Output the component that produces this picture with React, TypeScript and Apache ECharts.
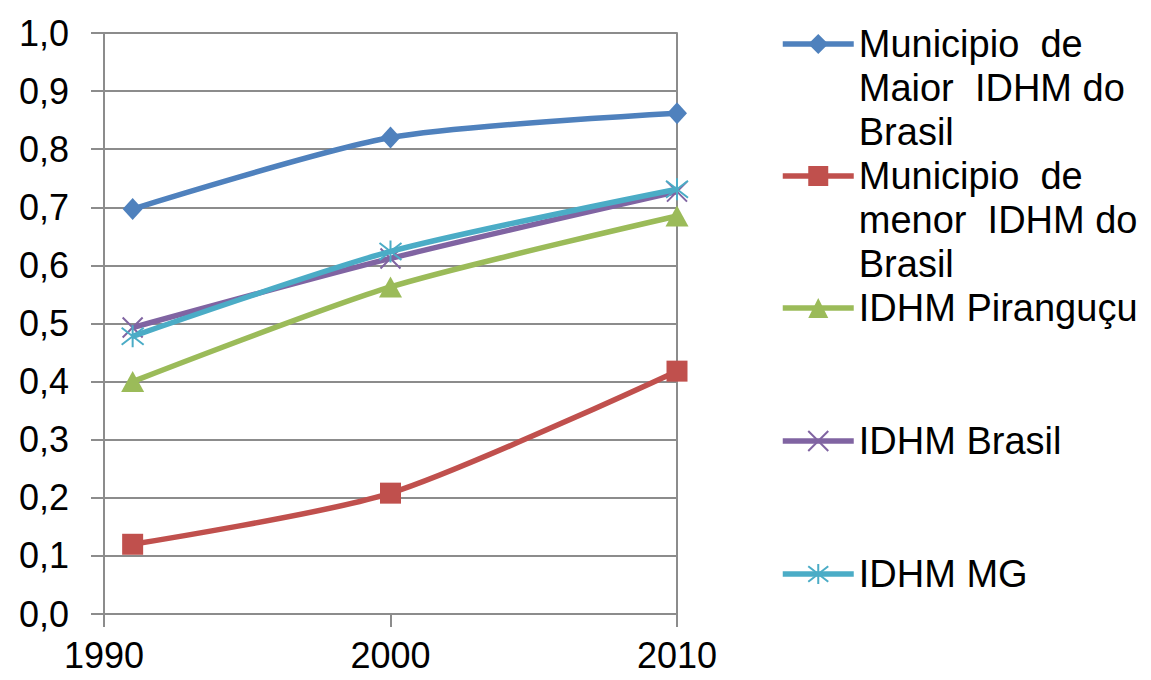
import React, { useEffect, useRef } from "react";
import * as echarts from "echarts";

const years = [1991, 2000, 2010];
const xTicks = [1990, 2000, 2010];
const seriesNames = [
  "Municipio de Maior IDHM do Brasil",
  "Municipio de menor IDHM do Brasil",
  "IDHM Piranguçu",
  "IDHM Brasil",
  "IDHM MG",
];
const legendLines = [
  ["Municipio  de", "Maior  IDHM do", "Brasil"],
  ["Municipio  de", "menor  IDHM do", "Brasil"],
  ["IDHM Piranguçu"],
  ["IDHM Brasil"],
  ["IDHM MG"],
];
const maiorIDHM = [0.697, 0.82, 0.862];
const menorIDHM = [0.12, 0.208, 0.418];
const piranguçu = [0.4, 0.563, 0.685];
const brasil = [0.493, 0.612, 0.727];
const mg = [0.478, 0.624, 0.731];

const colors = ["#4F81BD", "#C0504D", "#9BBB59", "#8064A2", "#4BACC6"];
const FONT = "'Liberation Sans', Arial, Helvetica, sans-serif";
const GRID = "#8c8c8c";

export default function App() {
  const ref = useRef<HTMLDivElement>(null);
  useEffect(() => {
    document.body.style.margin = "0";
    const chart = echarts.init(ref.current!, null, { renderer: "svg" });
    const values = [maiorIDHM, menorIDHM, piranguçu, brasil, mg];
    const symbols = [
      "diamond",
      "rect",
      "triangle",
      "path://M0,0L10,10M10,0L0,10",
      "path://M0,0L10,10M10,0L0,10M5,-1.5L5,11.5",
    ];
    const sizes: any[] = [[20, 22], 21, [23, 21], 20, 22];
    const series = values.map((vals, i) => ({
      name: seriesNames[i],
      type: "line",
      color: colors[i],
      data: years.map((y, j) => [y, vals[j]]),
      smooth: 0.25,
      symbol: symbols[i],
      symbolSize: sizes[i],
      showSymbol: true,
      lineStyle: { width: 5.5, color: colors[i] },
      itemStyle:
        i >= 3
          ? { color: colors[i], borderColor: colors[i], borderWidth: 2 }
          : { color: colors[i] },
      z: 2 + i,
    }));
    const iconCenters = [44, 176, 308, 441, 574];
    const lineH = 44;
    const padTop = 8;
    const legends = seriesNames.map((name, i) => {
      const lines = legendLines[i];
      const multi = lines.length > 1;
      const text = multi ? "\n\n" + lines.join("\n") : lines[0];
      const nLines = multi ? lines.length + 2 : 1;
      const textH = nLines * lineH + padTop;
      const h = Math.max(25, textH);
      return {
        show: true,
        orient: "vertical",
        left: 780,
        top: iconCenters[i] - h / 2,
        padding: 0,
        itemWidth: 71,
        itemHeight: 25,
        data: [name],
        selectedMode: false,
        formatter: () => text,
        lineStyle: { width: 5.5 },
        textStyle: {
          fontSize: 38,
          lineHeight: lineH,
          fontFamily: FONT,
          color: "#000",
          padding: [padTop, 0, 0, 0],
        },
      };
    });
    chart.setOption({
      animation: false,
      backgroundColor: "#fff",
      grid: { left: 104, right: 474, top: 33, bottom: 66, containLabel: false },
      legend: legends,
      xAxis: {
        type: "value",
        min: xTicks[0],
        max: xTicks[xTicks.length - 1],
        interval: 10,
        axisLine: { show: true, lineStyle: { color: GRID, width: 2 } },
        axisTick: { show: true, length: 13, lineStyle: { color: GRID, width: 2 } },
        splitLine: { show: false },
        axisLabel: {
          fontSize: 36,
          fontFamily: FONT,
          color: "#000",
          margin: 23,
          formatter: (v: number) => String(v),
        },
      },
      yAxis: [
        {
          type: "value",
          min: 0,
          max: 1,
          interval: 0.1,
          axisLine: { show: true, lineStyle: { color: GRID, width: 2 } },
          axisTick: { show: true, length: 13, lineStyle: { color: GRID, width: 2 } },
          splitLine: { show: true, lineStyle: { color: GRID, width: 2 } },
          axisLabel: {
            fontSize: 36,
            fontFamily: FONT,
            color: "#000",
            margin: 35,
            formatter: (v: number) => v.toFixed(1).replace(".", ","),
          },
        },
        {
          type: "value",
          position: "right",
          min: 0,
          max: 1,
          interval: 0.1,
          axisLine: { show: true, lineStyle: { color: GRID, width: 2 } },
          axisTick: { show: false },
          splitLine: { show: false },
          axisLabel: { show: false },
        },
      ],
      series,
    });
    return () => chart.dispose();
  }, []);
  return <div ref={ref} style={{ width: 1151, height: 680 }} />;
}
